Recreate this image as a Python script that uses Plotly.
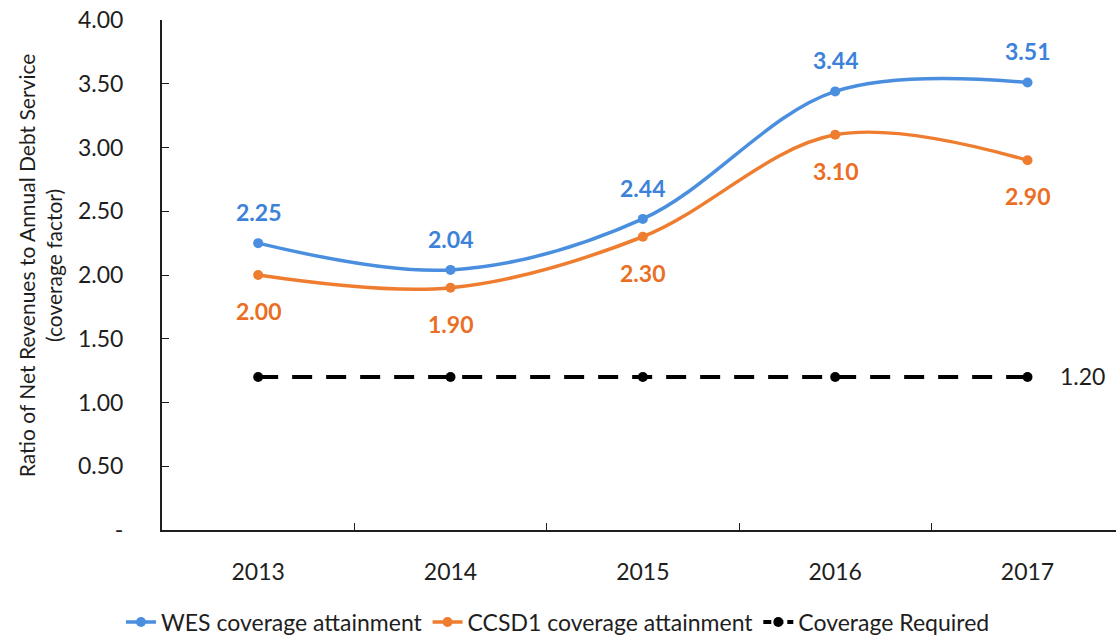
import plotly.graph_objects as go

years = ["2013", "2014", "2015", "2016", "2017"]
wes_coverage = [2.25, 2.04, 2.44, 3.44, 3.51]
ccsd1_coverage = [2.00, 1.90, 2.30, 3.10, 2.90]
coverage_required = [1.20, 1.20, 1.20, 1.20, 1.20]

y_tick_vals = [0, 0.5, 1.0, 1.5, 2.0, 2.5, 3.0, 3.5, 4.0]
y_tick_text = ["-", "0.50", "1.00", "1.50", "2.00", "2.50", "3.00", "3.50", "4.00"]

BLUE = "#4a8fdf"
BLUE_TXT = "#3d82d8"
ORANGE = "#ef7d2f"
ORANGE_TXT = "#ea6f25"
INK = "#1e1e1e"
FONT = "Lato"

fig = go.Figure()

fig.add_trace(go.Scatter(
    x=years, y=wes_coverage, name="WES coverage attainment",
    mode="lines+markers",
    line=dict(color=BLUE, width=3.5, shape="spline", smoothing=1),
    marker=dict(color=BLUE, size=10),
))
fig.add_trace(go.Scatter(
    x=years, y=ccsd1_coverage, name="CCSD1 coverage attainment",
    mode="lines+markers",
    line=dict(color=ORANGE, width=3.5, shape="spline", smoothing=1),
    marker=dict(color=ORANGE, size=10),
))
fig.add_trace(go.Scatter(
    x=years, y=coverage_required, name="Coverage Required",
    mode="lines+markers", showlegend=False, legendgroup="req",
    line=dict(color="black", width=4, dash="20px,14px"),
    marker=dict(color="black", size=10),
))
# legend entry with a shorter dash so the short legend sample reads as dashed
fig.add_trace(go.Scatter(
    x=[None], y=[None], name="Coverage Required", legendgroup="req",
    mode="lines+markers",
    line=dict(color="black", width=4, dash="8px,4px"),
    marker=dict(color="black", size=10),
))

# value labels, positioned by category index on the x axis
annotations = []
for i, v in enumerate(wes_coverage):
    annotations.append(dict(x=i, y=v, text=f"{v:.2f}", showarrow=False,
                            yshift=31, font=dict(family=FONT, size=23, color=BLUE_TXT, weight="bold")))
for i, v in enumerate(ccsd1_coverage):
    annotations.append(dict(x=i, y=v, text=f"{v:.2f}", showarrow=False,
                            yshift=-36, font=dict(family=FONT, size=23, color=ORANGE_TXT, weight="bold")))
last = len(coverage_required) - 1
annotations.append(dict(x=last, y=coverage_required[last], text=f"{coverage_required[last]:.2f}",
                        showarrow=False, xshift=55, yshift=1,
                        font=dict(family=FONT, size=23, color=INK)))
annotations.append(dict(xref="paper", yref="paper", x=-0.1285, y=0.52, textangle=-90,
                        text="Ratio of Net Revenues to Annual Debt Service<br>(coverage factor)",
                        showarrow=False, xanchor="center", yanchor="middle",
                        font=dict(family=FONT, size=21, color=INK)))

fig.update_layout(
    width=1116, height=640,
    margin=dict(l=162, r=0, t=20, b=110),
    paper_bgcolor="white", plot_bgcolor="white",
    font=dict(family=FONT, size=23, color=INK),
    showlegend=True,
    legend=dict(orientation="h", xref="container", yref="container",
                x=0.5, xanchor="center", y=0.028, yanchor="middle",
                font=dict(family=FONT, size=23, color=INK),
                itemwidth=30, tracegroupgap=0),
    annotations=annotations,
)

fig.update_xaxes(
    type="category", range=[-0.5, 4.46],
    showline=True, linecolor=INK, linewidth=2,
    ticks="inside", tickson="boundaries", ticklen=7, tickcolor=INK,
    showgrid=False, ticklabelstandoff=20,
    tickfont=dict(family=FONT, size=23, color=INK),
)
fig.update_yaxes(
    range=[0, 4.0], tickvals=y_tick_vals, ticktext=y_tick_text,
    showline=True, linecolor=INK, linewidth=2,
    ticks="inside", ticklen=7, tickcolor=INK,
    showgrid=False, zeroline=False, ticklabelstandoff=32,
    tickfont=dict(family=FONT, size=23, color=INK),
)

fig.write_html("out.html")
